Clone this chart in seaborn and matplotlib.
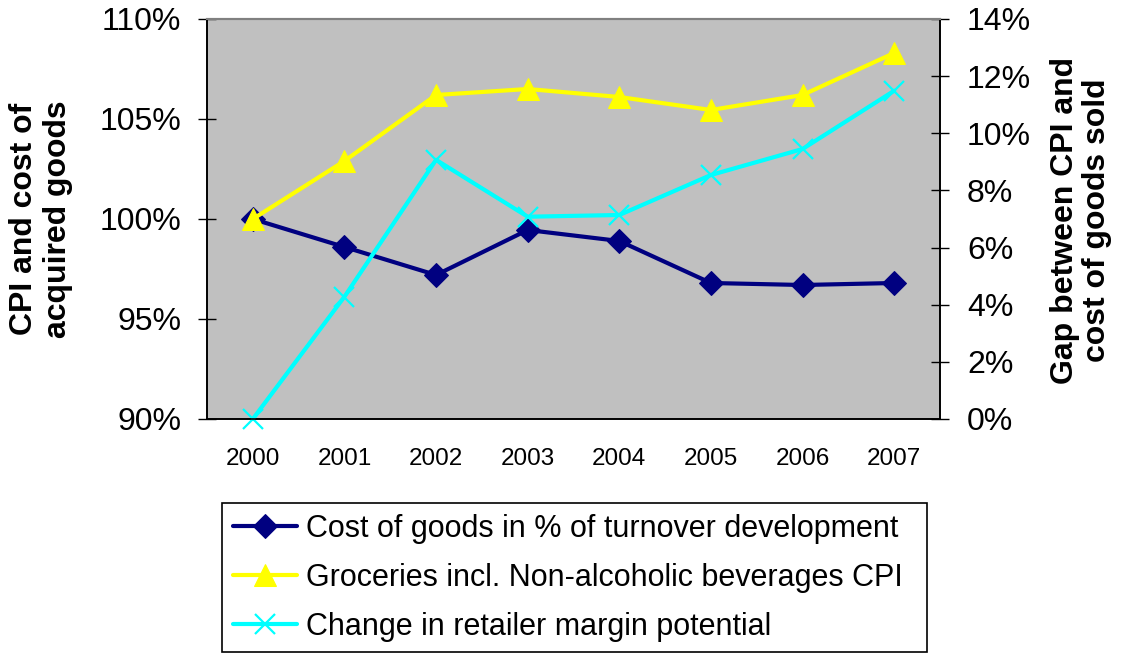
import matplotlib
matplotlib.use("Agg")
import matplotlib.pyplot as plt
import seaborn as sns
import pandas as pd
from matplotlib.ticker import FixedLocator, FuncFormatter

sns.set_style("white")
plt.rcParams['font.family'] = ['Liberation Sans', 'DejaVu Sans']
plt.rcParams['text.color'] = 'black'
plt.rcParams['axes.labelcolor'] = 'black'
plt.rcParams['xtick.color'] = 'black'
plt.rcParams['ytick.color'] = 'black'

years = ["2000", "2001", "2002", "2003", "2004", "2005", "2006", "2007"]
cost_of_goods = [100.0, 98.6, 97.2, 99.45, 98.9, 96.8, 96.7, 96.8]
groceries_cpi = [100.0, 102.9, 106.2, 106.5, 106.1, 105.45, 106.2, 108.3]
margin_change = [0.0, 4.28, 9.07, 7.08, 7.14, 8.54, 9.45, 11.49]

label_cost = "Cost of goods in % of turnover development"
label_cpi = "Groceries incl. Non-alcoholic beverages CPI"
label_margin = "Change in retailer margin potential"

df = pd.DataFrame({
    "x": list(range(len(years))),
    "cost": cost_of_goods,
    "cpi": groceries_cpi,
    "margin": margin_change,
})

fig = plt.figure(figsize=(11.25, 6.53), dpi=100)
ax = fig.add_axes([207/1125, 1-419/653, (940-207)/1125, (419-19)/653])
ax.set_facecolor("#C0C0C0")

sns.lineplot(data=df, x="x", y="cost", ax=ax, color="#000080", lw=3,
             marker="D", markersize=12, markeredgecolor="#000080", label=label_cost, legend=False)
sns.lineplot(data=df, x="x", y="cpi", ax=ax, color="#FFFF00", lw=3,
             marker="^", markersize=16, markeredgecolor="#FFFF00", label=label_cpi, legend=False)

ax2 = ax.twinx()
sns.lineplot(data=df, x="x", y="margin", ax=ax2, color="#00FFFF", lw=3,
             marker="x", markersize=15, markeredgewidth=1.6, markeredgecolor="#00FFFF",
             label=label_margin, legend=False)
for ln in ax2.get_lines():
    ln.set_clip_on(False)

ax.set_xlim(-0.5, len(years) - 0.5)
ax.set_ylim(90, 110)
ax2.set_ylim(0, 14)

ax.xaxis.set_major_locator(FixedLocator([i - 0.5 for i in range(len(years) + 1)]))
ax.xaxis.set_minor_locator(FixedLocator(list(range(len(years)))))
ax.xaxis.set_major_formatter(FuncFormatter(lambda v, p: ""))
ax.xaxis.set_minor_formatter(FuncFormatter(lambda v, p: years[int(round(v))] if 0 <= int(round(v)) < len(years) else ""))
ax.tick_params(axis="x", which="major", direction="inout", length=13, width=1, color="black")
ax.tick_params(axis="x", which="minor", length=0, pad=21, labelsize=17.5, labelcolor="black")

ax.set_yticks([90, 95, 100, 105, 110])
ax.yaxis.set_major_formatter(FuncFormatter(lambda v, p: f"{v:.0f}%"))
ax.tick_params(axis="y", direction="inout", length=13, width=1, color="black", pad=12,
               labelsize=23, left=True, labelcolor="black")

ax2.set_yticks([0, 2, 4, 6, 8, 10, 12, 14])
ax2.yaxis.set_major_formatter(FuncFormatter(lambda v, p: f"{v:.0f}%"))
ax2.tick_params(axis="y", direction="inout", length=13, width=1, color="black", pad=13,
                labelsize=23, right=True, labelcolor="black")

ax.set_xlabel("")
ax.set_ylabel("")
ax2.set_ylabel("")

for a in (ax, ax2):
    for side in ("left", "bottom", "right"):
        a.spines[side].set_visible(True)
        a.spines[side].set_color("black")
        a.spines[side].set_linewidth(1.2)
    a.spines["top"].set_visible(True)
    a.spines["top"].set_color("#808080")
    a.spines["top"].set_linewidth(1.5)

fig.text(41/1125, 1-219/653, "CPI and cost of\nacquired goods", rotation=90,
         ha="center", va="center", fontsize=23, fontweight="bold", linespacing=1.2,
         multialignment="center", color="black")
fig.text(1081/1125, 1-220/653, "Gap between CPI and\ncost of goods sold", rotation=90,
         ha="center", va="center", fontsize=23, fontweight="bold", linespacing=1.1,
         multialignment="center", color="black")

h1, l1 = ax.get_legend_handles_labels()
h2, l2 = ax2.get_legend_handles_labels()
leg = fig.legend(h1 + h2, l1 + l2, loc="upper left",
                 bbox_to_anchor=(222/1125, 0.0, (927-222)/1125, 1-503/653),
                 mode="expand", borderaxespad=0, fontsize=22, frameon=True,
                 fancybox=False, framealpha=1, edgecolor="black",
                 handlelength=2.1, handletextpad=0.3, labelspacing=0.62,
                 borderpad=0.35)
leg.get_frame().set_linewidth(1.2)
for t in leg.get_texts():
    t.set_color("black")

fig.savefig("out.png", dpi=100)
